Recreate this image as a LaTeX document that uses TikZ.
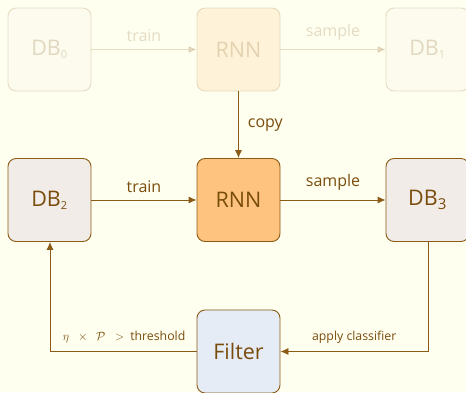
\documentclass[tikz,border=0pt]{standalone}
\usepackage{fontspec}
\setmainfont{Open Sans}
\usetikzlibrary{arrows.meta}
\definecolor{bgc}{HTML}{FFFFF0}
\definecolor{ink}{HTML}{8A5A16}
\definecolor{txt}{HTML}{7A4C0C}
\definecolor{dbfill}{HTML}{F1ECE7}
\definecolor{rnnfill}{HTML}{FEC47F}
\definecolor{filtfill}{HTML}{E5ECF6}
\tikzset{
  box/.style={draw=ink, line width=0.9pt, rounded corners=8pt,
    minimum width=83pt, minimum height=83pt, inner sep=0pt,
    text=txt, font=\fontsize{21.5}{24}\selectfont},
  flow/.style={draw=ink, line width=0.9pt, -{Latex[length=8pt,width=7pt]}},
  lbl/.style={text=txt, font=\fontsize{16}{18}\selectfont, inner sep=1pt},
  slbl/.style={text=txt, font=\fontsize{12.3}{14}\selectfont, inner sep=1pt},
}
\begin{document}
\begin{tikzpicture}[x=1pt,y=-1pt]
\fill[bgc] (0,0) rectangle (466,392);
\useasboundingbox (0,0) rectangle (466,392);

% earlier round, faded
\begin{scope}[opacity=0.2]
  \node[box, fill=dbfill] (db0) at (49.5,49.5) {DB\textsubscript{\fontsize{11}{12}\selectfont 0}};
  \node[box, fill=rnnfill] (rnn0) at (238.5,49.5) {RNN};
  \node[box, fill=dbfill] (db1) at (427.5,49.5) {DB\textsubscript{\fontsize{11}{12}\selectfont 1}};
  \draw[flow] (db0) -- node[lbl, above=6pt] {train} (rnn0);
  \draw[flow] (rnn0) -- node[lbl, above=8pt] {sample} (db1);
\end{scope}

% current round
\node[box, fill=dbfill] (db2) at (49.5,200) {DB\textsubscript{\fontsize{11}{12}\selectfont 2}};
\node[box, fill=rnnfill] (rnn) at (238.5,200) {RNN};
\node[box, fill=dbfill] (db3) at (427.5,200) {DB\textsubscript{\fontsize{15}{16}\selectfont 3}};
\node[box, fill=filtfill] (filt) at (238.5,351.5) {Filter};

\draw[flow] (rnn0) -- node[lbl, right=8pt] {copy} (rnn);
\draw[flow] (db2) -- node[lbl, above=6pt] {train} (rnn);
\draw[flow] (rnn) -- node[lbl, above=8pt] {sample} (db3);

\coordinate (c1) at (428,351.5);
\coordinate (c2) at (50,351.5);
\draw[flow] (db3.south -| c1) -- (c1) -- node[slbl, above=7pt, pos=0.5] {apply classifier} (filt.east);
\draw[flow] (filt.west) -- (c2) -- (db2.south -| c2);
\node[slbl, anchor=south east] (cond) at ([xshift=-10pt,yshift=7pt]filt.west)
  {$\eta\enspace\times\enspace\mathcal{P}\enspace>\enspace$threshold};
\end{tikzpicture}
\end{document}
